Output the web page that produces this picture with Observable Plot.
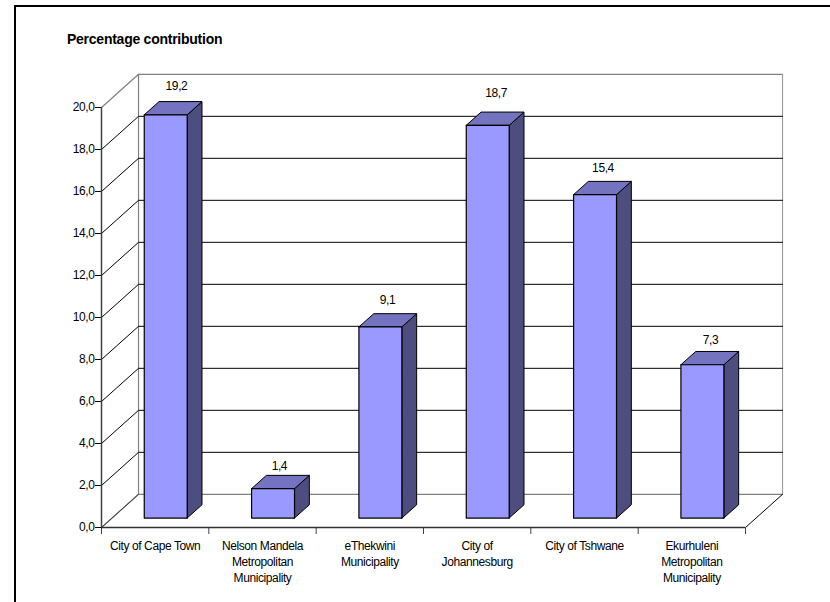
<!DOCTYPE html>
<html>
<head>
<meta charset="utf-8">
<script src="https://cdn.jsdelivr.net/npm/d3@7"></script>
<script src="https://cdn.jsdelivr.net/npm/@observablehq/plot@0.6"></script>
<style>
  html, body { margin: 0; padding: 0; background: #fff; }
  #page { position: relative; width: 830px; height: 602px; overflow: hidden; font-family: "Liberation Sans", Arial, sans-serif; }
  #frame { position: absolute; left: 14px; top: 5px; right: 0; bottom: 0; border-top: 2px solid #000; border-left: 2px solid #000; pointer-events: none; }
  #title { position: absolute; left: 67px; top: 31px; font-size: 14px; font-weight: bold; color: #000; letter-spacing: -0.25px; white-space: nowrap; }
  #page svg { position: absolute; left: 0; top: 0; background: transparent; }
  #page svg text { letter-spacing: -0.4px; }
</style>
</head>
<body>
<div id="page">
  <div id="frame"></div>
  <div id="title">Percentage contribution</div>
</div>
<script>
// Data
const categories = [
  "City of Cape Town",
  "Nelson Mandela\nMetropolitan\nMunicipality",
  "eThekwini\nMunicipality",
  "City of\nJohannesburg",
  "City of Tshwane",
  "Ekurhuleni\nMetropolitan\nMunicipality"
];
const values = [19.2, 1.4, 9.1, 18.7, 15.4, 7.3];
const yTicks = [0, 2, 4, 6, 8, 10, 12, 14, 16, 18, 20];

// Projection of the 3-D box, in scale units
const wallX = 0.345, wallY = 1.58;     // how far the back wall sits from the front plane
const barFront = 0.285, barBack = 0.685; // bar depth as a fraction of the floor
const barHalf = 0.2;
// Per-label nudges as placed in the original chart
const nudgeX = [0.10, 0.059, 0.067, 0.079, 0.074, 0.076];
const nudgeY = [0.75, 0.45, 0.62, 0.91, 0.61, 0.56];

const fmt = v => v.toFixed(1).replace(".", ",");
const px = (i, side, f) => i + 0.5 + side * barHalf + f * wallX;
const py = (v, f) => v + f * wallY;

const bars = values.map((v, i) => ({i, v}));
const poly = (pts) => bars.flatMap(b => pts(b).map(([x, y]) => ({bar: b.i, x, y})));

const front = poly(({i, v}) => [
  [px(i, -1, barFront), py(0, barFront)], [px(i, 1, barFront), py(0, barFront)],
  [px(i, 1, barFront), py(v, barFront)], [px(i, -1, barFront), py(v, barFront)],
  [px(i, -1, barFront), py(0, barFront)]
]);
const side = poly(({i, v}) => [
  [px(i, 1, barFront), py(0, barFront)], [px(i, 1, barBack), py(0, barBack)],
  [px(i, 1, barBack), py(v, barBack)], [px(i, 1, barFront), py(v, barFront)],
  [px(i, 1, barFront), py(0, barFront)]
]);
const top_ = poly(({i, v}) => [
  [px(i, -1, barFront), py(v, barFront)], [px(i, 1, barFront), py(v, barFront)],
  [px(i, 1, barBack), py(v, barBack)], [px(i, -1, barBack), py(v, barBack)],
  [px(i, -1, barFront), py(v, barFront)]
]);

const n = categories.length;
const wallSeg = (y) => [
  {t: y, x: 0, y}, {t: y, x: wallX, y: y + wallY}, {t: y, x: n + wallX, y: y + wallY}
];
const innerTicks = yTicks.slice(1, -1);
const outerTicks = [yTicks[0], yTicks[yTicks.length - 1]];

const chart = Plot.plot({
  width: 830, height: 602,
  marginLeft: 101, marginRight: 85, marginTop: 107, marginBottom: 75,
  x: {domain: [0, n], axis: null},
  y: {domain: [0, 20], axis: null},
  style: {fontFamily: '"Liberation Sans", Arial, sans-serif', background: "transparent", color: "#000"},
  marks: [
    // walls
    Plot.line(outerTicks.flatMap(wallSeg), {x: "x", y: "y", z: "t", stroke: "#808080", strokeWidth: 1.2}),
    Plot.line([{x: wallX, y: wallY}, {x: wallX, y: 20 + wallY}], {x: "x", y: "y", stroke: "#808080", strokeWidth: 1.2}),
    Plot.line([{x: n + wallX, y: wallY}, {x: n + wallX, y: 20 + wallY}], {x: "x", y: "y", stroke: "#a0a0a0", strokeWidth: 1.2}),
    // grid
    Plot.line(innerTicks.flatMap(wallSeg), {x: "x", y: "y", z: "t", stroke: "#000", strokeWidth: 1}),
    // floor
    Plot.line([{x: 0, y: 0}, {x: wallX, y: wallY}], {x: "x", y: "y", stroke: "#404040", strokeWidth: 1}),
    Plot.line([{x: n, y: 0}, {x: n + wallX, y: wallY}], {x: "x", y: "y", stroke: "#000", strokeWidth: 1}),
    // bars
    Plot.line(side, {x: "x", y: "y", z: "bar", fill: "#4d4d80", stroke: "#000", strokeWidth: 1}),
    Plot.line(top_, {x: "x", y: "y", z: "bar", fill: "#7373bf", stroke: "#000", strokeWidth: 1}),
    Plot.line(front, {x: "x", y: "y", z: "bar", fill: "#9999ff", stroke: "#000", strokeWidth: 1.2}),
    // value labels
    Plot.text(bars, {
      x: d => d.i + 0.5 + barFront * wallX + nudgeX[d.i],
      y: d => py(d.v, barBack) + nudgeY[d.i],
      text: d => fmt(d.v), fontSize: 12, fill: "#000", lineAnchor: "middle"
    }),
    // axes
    Plot.axisY({ticks: yTicks, tickFormat: fmt, tickSize: 6, tickPadding: 1, fontSize: 12, stroke: "#000", fill: "#000", label: null}),
    Plot.axisX({ticks: d3.range(n + 1), tickFormat: () => "", tickSize: 7, label: null, stroke: "#404040"}),
    Plot.ruleX([0], {stroke: "#404040", strokeWidth: 1.5}),
    Plot.ruleY([0], {stroke: "#303030", strokeWidth: 1.5}),
    // category labels
    Plot.text(categories, {
      x: (d, i) => i + 0.5, y: () => 0, text: d => d,
      dy: 11, lineAnchor: "top", lineHeight: 1.33, fontSize: 12, fill: "#000"
    })
  ]
});
document.getElementById("page").appendChild(chart);
</script>
</body>
</html>
